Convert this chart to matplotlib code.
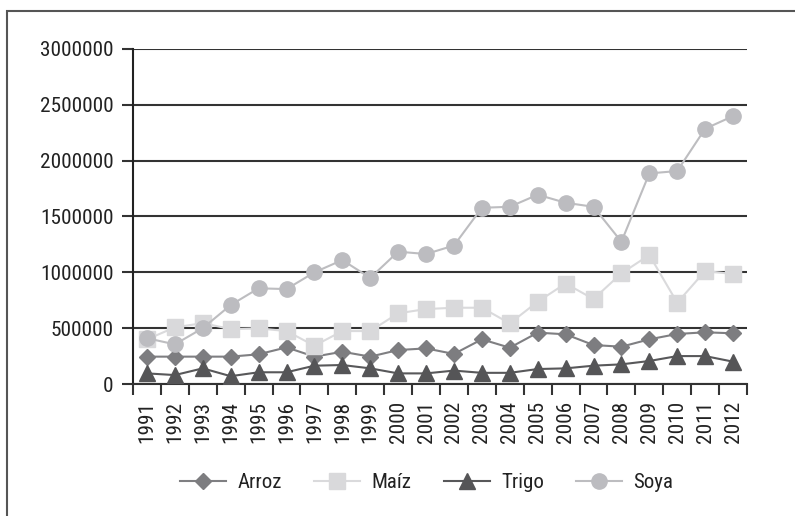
import matplotlib
matplotlib.use("Agg")
import matplotlib.pyplot as plt
from matplotlib.patches import Rectangle
from matplotlib.ticker import FixedLocator, NullFormatter

plt.rcParams['font.family'] = ['Roboto Condensed', 'Archivo Narrow', 'Liberation Sans', 'DejaVu Sans']

years = [str(y) for y in range(1991, 2013)]
arroz = [245000, 245000, 245000, 245000, 266000, 328000, 245000, 289000, 245000, 304000, 319000,
         269000, 400000, 325000, 460000, 445000, 349000, 334000, 400000, 448000, 463000, 454000]
maiz = [400000, 507000, 545000, 492000, 498000, 474000, 343000, 474000, 474000, 633000, 671000,
        683000, 683000, 543000, 737000, 900000, 761000, 991000, 1155000, 728000, 1012000, 985000]
trigo = [95000, 80000, 140000, 70000, 105000, 105000, 164000, 170000, 140000, 95000, 95000,
         120000, 100000, 100000, 134000, 140000, 164000, 176000, 206000, 250000, 250000, 200000]
soya = [410000, 355000, 500000, 707000, 857000, 850000, 1000000, 1110000, 950000, 1185000, 1164000,
        1240000, 1578000, 1587000, 1695000, 1623000, 1587000, 1274000, 1886000, 1907000, 2286000, 2399000]
yticks = [0, 500000, 1000000, 1500000, 2000000, 2500000, 3000000]

fig = plt.figure(figsize=(7.95, 5.16), dpi=100)
ax = fig.add_axes([133/795, 1-384/516, (747-133)/795, (384-49)/516])

x = list(range(len(years)))
ax.plot(x, arroz, color='#7f7f82', lw=1.5, marker='D', ms=7.8, mfc='#7d7d80', mec='#7d7d80', label='Arroz', zorder=3)
ax.plot(x, maiz, color='#dadadc', lw=1.5, marker='s', ms=11, mfc='#d9d9db', mec='#d9d9db', label='Maíz', zorder=3)
ax.plot(x, trigo, color='#58585a', lw=1.5, marker='^', ms=11.5, mfc='#555557', mec='#555557', label='Trigo', zorder=3)
ax.plot(x, soya, color='#bdbdc0', lw=1.5, marker='o', ms=11, mfc='#bcbcc0', mec='#bcbcc0', label='Soya', zorder=3)

ax.set_xlim(-0.5, len(years) - 0.5)
ax.set_ylim(0, 3000000)
ax.set_yticks(yticks)
ax.set_yticklabels([str(v) for v in yticks])
ax.yaxis.grid(True, color='#333333', lw=1.5)
ax.set_axisbelow(True)

ax.set_xticks(x)
ax.set_xticklabels(years, rotation=90)
ax.xaxis.set_minor_locator(FixedLocator([i - 0.5 for i in range(len(years) + 1)]))
ax.xaxis.set_minor_formatter(NullFormatter())
ax.tick_params(axis='x', which='major', length=0, pad=12, labelsize=15.3, colors='#222222')
ax.tick_params(axis='x', which='minor', length=8, width=1.5, color='#333333')
ax.tick_params(axis='y', which='major', length=8, width=1.5, color='#333333', labelsize=15.3, labelcolor='#222222', pad=6)

for s in ['top', 'right']:
    ax.spines[s].set_visible(False)
ax.spines['left'].set_color('#222222')
ax.spines['left'].set_linewidth(1.5)
ax.spines['bottom'].set_color('#333333')
ax.spines['bottom'].set_linewidth(1.5)

leg = fig.legend(loc='center', bbox_to_anchor=(0.537, 1-483/516), ncol=4, frameon=False,
                 fontsize=15, handlelength=2.2, handletextpad=0.55, columnspacing=1.55,
                 labelcolor='#222222')

fig.add_artist(Rectangle((7/795, -0.2), 1.2, 1.2 - 11/516, transform=fig.transFigure,
                         fill=False, ec='#555555', lw=1.5))

fig.savefig('out.png', dpi=100)
